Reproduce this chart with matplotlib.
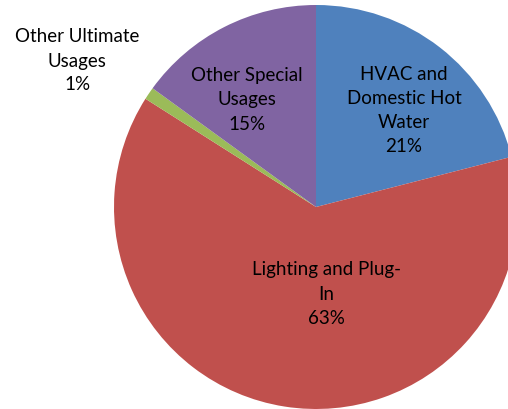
import matplotlib
matplotlib.use('Agg')
import matplotlib.pyplot as plt

# datos del grafico
categorias = ['HVAC and\nDomestic Hot\nWater', 'Lighting and Plug-\nIn',
              'Other Ultimate\nUsages', 'Other Special\nUsages']
valores = [21, 63, 1, 15]
colores = ['#4F81BD', '#C0504D', '#9BBB59', '#8064A2']

W, H = 508, 409
fig = plt.figure(figsize=(W / 100, H / 100), dpi=100)
ax = fig.add_axes([0, 0, 1, 1])

cx, cy, r = 316, H - 207, 202
ax.pie(valores, colors=colores, startangle=90, counterclock=False,
       center=(cx, cy), radius=r, frame=True,
       wedgeprops=dict(linewidth=0))
ax.set_xlim(0, W)
ax.set_ylim(0, H)
ax.set_aspect('equal')
ax.axis('off')

# posiciones de etiquetas (pixeles desde arriba)
pos = [(404, 111), (326, 294), (77, 61), (247, 100)]
for cat, v, (x, y) in zip(categorias, valores, pos):
    ax.text(x, H - y, f"{cat}\n{v}%", ha='center', va='center',
            fontsize=13.5, family='Lato', linespacing=1.5, color='black')

plt.savefig('out.png', dpi=100, facecolor='white')
